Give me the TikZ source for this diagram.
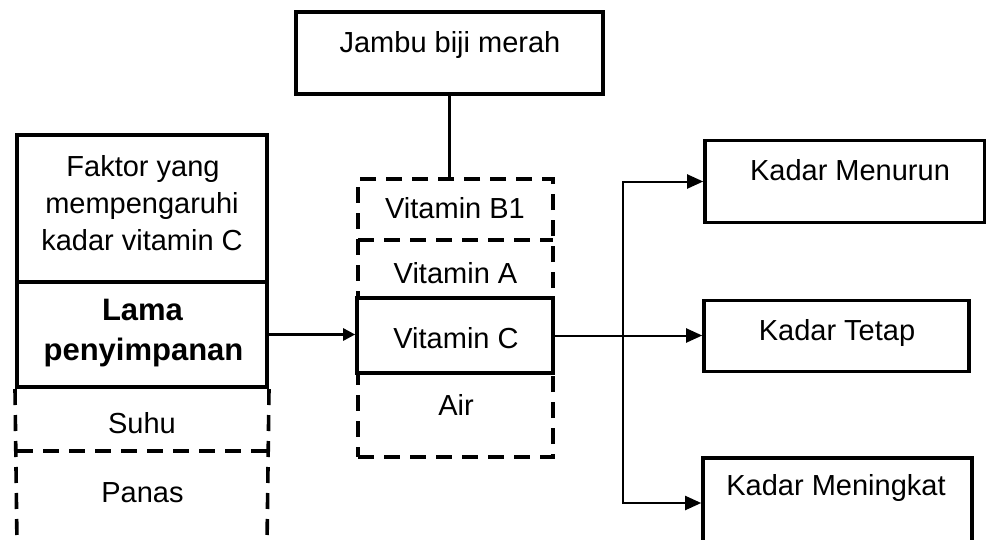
\documentclass[tikz,border=0pt]{standalone}
\usepackage{fontspec}
\setmainfont{Liberation Sans}
\usetikzlibrary{arrows.meta}
\begin{document}
\begin{tikzpicture}[x=1pt,y=-1pt,
  box/.style={draw, line width=3.6pt, rectangle, inner sep=0pt},
  dbox/.style={draw, line width=3.6pt, dash pattern=on 16pt off 10pt, rectangle, inner sep=0pt},
  dline/.style={line width=3.6pt, dash pattern=on 16pt off 10pt},
  lbl/.style={font=\fontsize{29}{34}\selectfont, anchor=base, inner sep=0pt},
  blbl/.style={font=\fontsize{31}{36}\selectfont\bfseries, anchor=base, inner sep=0pt},
  conn/.style={line width=2pt},
  thick conn/.style={line width=3.6pt},
  arr/.style={line width=2pt, -{Triangle[length=16pt,width=14pt]}},
  larr/.style={line width=2.6pt, -{Triangle[length=12pt,width=12pt]}},
]
\useasboundingbox (0,0) rectangle (986,539);
\clip (0,0) rectangle (986,539);

% top box
\node[box, minimum width=307pt, minimum height=82pt] (jambu) at (449.5,53) {};
\node[lbl] (tjambu) at (450,52) {Jambu biji merah};

% middle dashed column
\node[dbox, minimum width=195pt, minimum height=278pt] (vit) at (455.5,318) {};
\coordinate (b1l) at (358,240);
\coordinate (b1r) at (553,240);
\draw[dline] (b1l) -- (b1r);
\node[box, fill=white, minimum width=196pt, minimum height=75pt] (vitc) at (455,335.5) {};
\node[lbl] (tb1) at (455,218) {Vitamin B1};
\node[lbl] (ta) at (455.5,283) {Vitamin A};
\node[lbl] (tc) at (456,348) {Vitamin C};
\node[lbl] (tair) at (456,415) {Air};

% left column
\node[box, line width=4pt, minimum width=250pt, minimum height=147pt] (faktor) at (142,208.5) {};
\node[box, line width=4pt, minimum width=250pt, minimum height=105pt] (lama) at (142,334.5) {};
\coordinate (lbot) at (17,545);
\coordinate (rbot) at (267,545);
\coordinate (dl) at (17,451);
\coordinate (dr) at (267,451);
\draw[dline] (lama.south west) -- (lbot);
\draw[dline] (lama.south east) -- (rbot);
\draw[dline] (dl) -- (dr);
\node[lbl] (tf1) at (143,176) {Faktor yang};
\node[lbl] (tf2) at (142,213) {mempengaruhi};
\node[lbl] (tf3) at (142,250) {kadar vitamin C};
\node[blbl] (tl1) at (142.5,320) {Lama};
\node[blbl] (tl2) at (143.5,360) {penyimpanan};
\node[lbl] (tsuhu) at (142,433) {Suhu};
\node[lbl] (tpanas) at (142.5,502) {Panas};

% right boxes
\node[box, minimum width=280pt, minimum height=82pt] (menurun) at (845,181.5) {};
\node[box, minimum width=265pt, minimum height=71pt] (tetap) at (836.5,336) {};
\node[box, minimum width=269pt, minimum height=90pt] (meningkat) at (837.5,503) {};
\node[lbl] (tmenurun) at (850,180) {Kadar Menurun};
\node[lbl] (ttetap) at (837,340) {Kadar Tetap};
\node[lbl] (tmeningkat) at (836,495) {Kadar Meningkat};

% connectors
\draw[thick conn] (jambu.south) -- (jambu.south |- vit.north);
\draw[larr] (lama.east) -- (lama.east -| vitc.west);
\draw[conn] (vitc.east) -- (vitc.east -| 623,0) coordinate (split);
\draw[arr] (split) -- (split -| tetap.west);
\draw[arr] (split) |- (menurun.west);
\draw[arr] (split) |- (meningkat.west);
\end{tikzpicture}
\end{document}
